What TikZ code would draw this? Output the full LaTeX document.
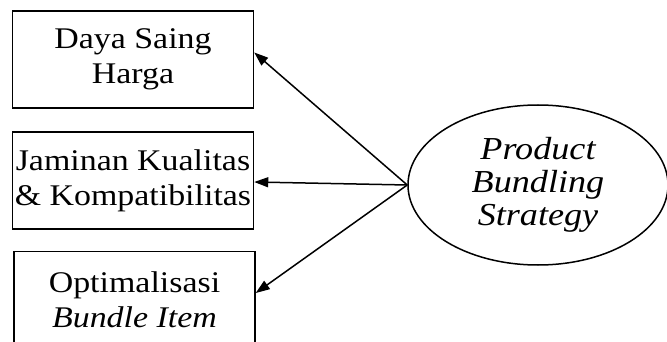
\documentclass[tikz,border=0pt]{standalone}
\usepackage{fontspec}
\setmainfont{Liberation Serif}[FakeStretch=1.13]
\usetikzlibrary{arrows.meta}
\usetikzlibrary{shapes.geometric}
\tikzset{>={Triangle[length=14pt,width=10pt]}, every picture/.style={line width=1.5pt}}

\begin{document}
\begin{tikzpicture}[x=1pt,y=-1pt]
  \def\boxw{241pt}
  \def\boxh{97pt}
  \useasboundingbox (0,0) rectangle (667,342);
  \tikzset{kotak/.style={draw,rectangle,minimum width=\boxw,minimum height=\boxh,align=center,inner sep=0pt,font=\fontsize{30}{35}\selectfont}}

  % Daya Saing Harga
  \node[kotak] (daya) at (133,59.5) {Daya Saing\\Harga};

  % Jaminan Kualitas
  \node[kotak] (jaminan) at (133,180.5) {Jaminan Kualitas\\\& Kompatibilitas};

  % Optimalisasi Bundle Item
  \node[kotak] (optim) at (134.5,300) {Optimalisasi\\\textit{Bundle Item}};

  % Product Bundling Strategy
  \node[ellipse,draw,minimum width=260pt,minimum height=160pt,inner sep=0pt,align=center,font=\itshape\fontsize{32}{33}\selectfont] (pbs) at (538,185) {Product\\Bundling\\Strategy};

  % pbs -> indikator
  \draw[->] (pbs.west) -- ([yshift=7pt]daya.east);
  \draw[->] (pbs.west) -- ([yshift=-1.5pt]jaminan.east);
  \draw[->] (pbs.west) -- ([yshift=7pt]optim.east);
\end{tikzpicture}
\end{document}
